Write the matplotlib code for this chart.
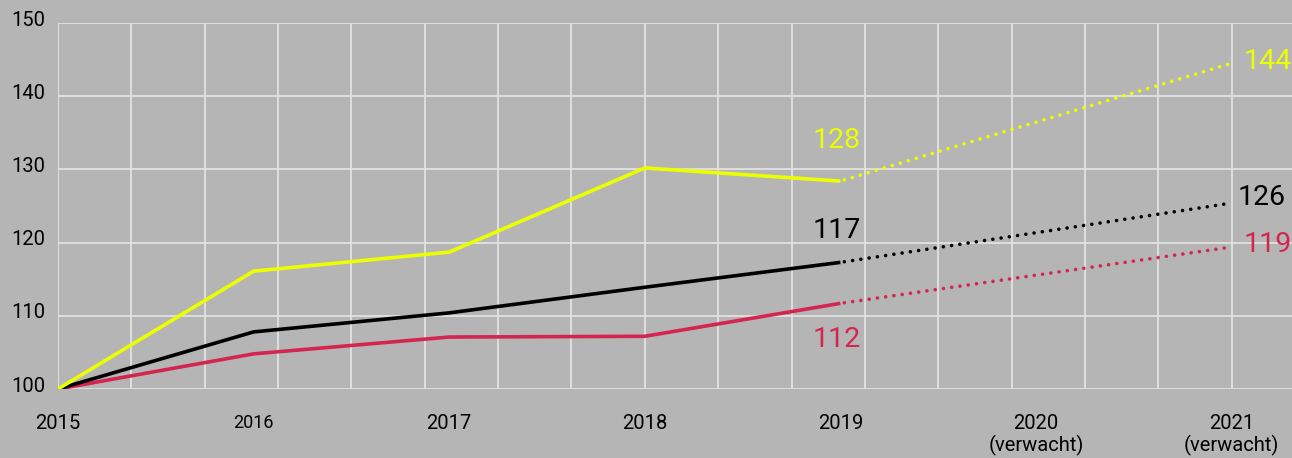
import numpy as np
import matplotlib.pyplot as plt
import matplotlib.transforms as mtransforms

# DATA
years = [2015, 2016, 2017, 2018, 2019]
years_proj = [2019, 2021]
yellow = [100, 116.1, 118.7, 130.2, 128.4]
black = [100, 107.8, 110.4, 113.9, 117.3]
red = [100, 104.8, 107.1, 107.2, 111.7]
yellow_proj = [128.4, 144.5]
black_proj = [117.3, 125.4]
red_proj = [111.7, 119.4]
tick_years = [2015, 2016, 2017, 2018, 2019, 2020, 2021]
tick_labels = ["2015", "2016", "2017", "2018", "2019",
               "2020\n(verwacht)", "2021\n(verwacht)"]
y_ticks = [100, 110, 120, 130, 140, 150]

BG = "#b5b5b5"
YEL = "#ebff00"
RED = "#d42550"
BLK = "#000000"
GRID = "#e2e2e2"

plt.rcParams['font.family'] = ['Roboto', 'DejaVu Sans']

fig = plt.figure(figsize=(12.92, 4.58), dpi=100, facecolor=BG)
ax = fig.add_axes([58 / 1292, 1 - 389 / 458, 1 - 58 / 1292, (389 - 23) / 458])
ax.set_facecolor(BG)

# grid every 0.375 year, every 10 units
for gx in np.arange(2015, 2021.4, 0.375):
    ax.axvline(gx, color=GRID, lw=1.3, zorder=0)
for gy in y_ticks:
    ax.axhline(gy, color=GRID, lw=1.3, zorder=0)

lw = 2.6
dots = (1.2, (0.01, 2.3))
for vals, proj, c in [(red, red_proj, RED), (black, black_proj, BLK), (yellow, yellow_proj, YEL)]:
    ax.plot(years, vals, color=c, lw=lw, solid_capstyle='butt', zorder=3)
    ax.plot(years_proj, proj, color=c, lw=lw, linestyle=dots,
            dash_capstyle='round', zorder=3)

# value labels
fs = 20.5
ax.text(2018.98, 133.9, "128", color=YEL, fontsize=fs, ha='center', va='center')
ax.text(2018.98, 121.7, "117", color=BLK, fontsize=fs, ha='center', va='center')
ax.text(2018.98, 106.7, "112", color=RED, fontsize=fs, ha='center', va='center')
ax.text(2021.06, 144.7, "144", color=YEL, fontsize=fs, ha='left', va='center')
ax.text(2021.03, 126.1, "126", color=BLK, fontsize=fs, ha='left', va='center')
ax.text(2021.06, 119.7, "119", color=RED, fontsize=fs, ha='left', va='center')

ax.set_xlim(2015, 2015 + (1292 - 58) / 195.6)
ax.set_ylim(100, 150)
ax.set_xticks(tick_years)
ax.set_xticklabels(tick_labels, fontsize=14.5, linespacing=1.1)
ax.set_yticks(y_ticks)
ax.set_yticklabels([str(v) for v in y_ticks], fontsize=14.5)
ax.get_xticklabels()[1].set_fontsize(13)
ax.tick_params(axis='x', length=0, pad=18)
ax.tick_params(axis='y', length=0, pad=9)
off = mtransforms.ScaledTranslation(0, 3.5 / 72, fig.dpi_scale_trans)
for lab in ax.get_yticklabels():
    lab.set_transform(lab.get_transform() + off)
for s in ax.spines.values():
    s.set_visible(False)

fig.savefig("out.png", dpi=100, facecolor=BG)
